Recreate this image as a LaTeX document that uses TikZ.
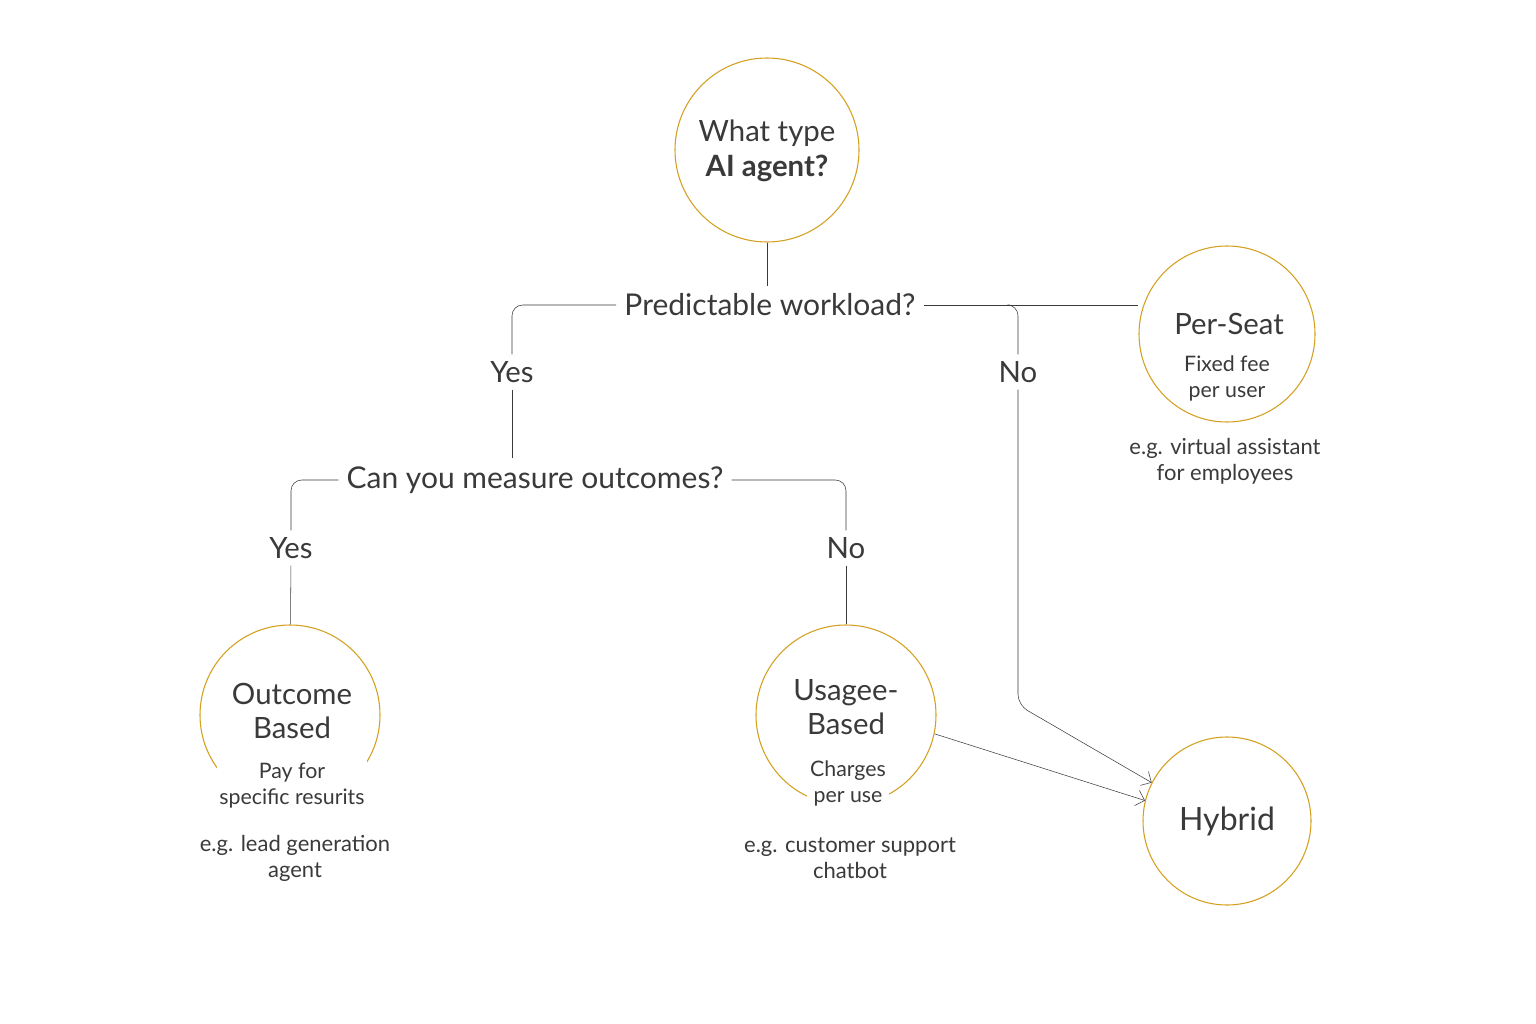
\documentclass[tikz,border=0pt]{standalone}
\usepackage{fontspec}
\setmainfont{Lato}
\usepackage{tikz}
\usetikzlibrary{positioning}
\usetikzlibrary{arrows.meta}
\definecolor{gold}{HTML}{D4A020}
\definecolor{ink}{HTML}{3A3A3A}
\tikzset{
    bubble/.style = {circle, draw=gold, thick, fill=white, inner sep=0pt},
    question/.style = {fill=white, inner sep=6pt, text=ink, font=\fontsize{22.5}{26}\selectfont},
    answer/.style = {fill=white, inner sep=5pt, text=ink, font=\fontsize{22}{26}\selectfont},
    title/.style = {align=center, text=ink, font=\fontsize{22}{26}\selectfont},
    note/.style = {align=center, fill=white, inner sep=2pt, text=ink, font=\fontsize{16}{19.5}\selectfont},
    example/.style = {align=center, text=ink, font=\fontsize{16.5}{19.5}\selectfont},
    link/.style = {draw=ink, thin, rounded corners=8pt},
}
\begin{document}
\begin{tikzpicture}[x=0.75pt, y=-0.75pt]
\useasboundingbox (0,0) rectangle (1536,1024);
% bubbles
\node[bubble, minimum size=138pt] (top) at (767,150) {};
\node[title] at (767,151) {What type\\\textbf{AI agent?}};
\node[bubble, minimum size=132pt] (seat) at (1227,334) {};
\node[title] at (1229,324) {Per-Seat};
\node[bubble, minimum size=135pt] (outcome) at (290,715) {};
\node[title] at (292,711) {Outcome\\Based};
\node[bubble, minimum size=135pt] (usage) at (846,715) {};
\node[title] at (846,707) {Usagee-\\Based};
\node[bubble, minimum size=126pt] (hybrid) at (1227,821) {};
\node[title, font=\fontsize{24}{28}\selectfont] at (1227,821) {Hybrid};
% notes
\node[note] at (1227,378) {Fixed fee\\per user};
\node[note] at (292,786) {Pay for\\specific resurits};
\node[note] at (848,783) {Charges\\per use};
\node[example] at (1225,461) {e.g. virtual assistant\\for employees};
\node[example] at (295,858) {e.g. lead generation\\agent};
\node[example] at (850,858) {e.g. customer support\\chatbot};
% questions and answers
\node[question] (pw) at (770,305) {Predictable workload?};
\node[question] (cm) at (535,480) {Can you measure outcomes?};
\node[answer] (yes1) at (512,372) {Yes};
\node[answer] (no1) at (1018,372) {No};
\node[answer] (yes2) at (291,548) {Yes};
\node[answer] (no2) at (846,548) {No};
\coordinate (fork) at (1010,305);
\coordinate (bend) at (1018,705);
%
\draw[link] (top) -- (top |- pw.north);
\draw[link] (pw.west) -| (yes1.north);
\draw[link] (pw.east) -- (pw.east -| seat.west);
\draw[link] (fork) -| (no1.north);
\draw[link] (yes1.south) -- (yes1.south |- cm.north);
\draw[link] (cm.west) -| (yes2.north);
\draw[link] (cm.east) -| (no2.north);
\draw[link] (yes2) -- (outcome);
\draw[link] (no2) -- (usage);
\draw[link, -{Straight Barb[length=6pt]}] (no1.south) -- (bend) -- (hybrid.153);
\draw[link, -{Straight Barb[length=6pt]}] (usage.348) -- (hybrid.166);
\end{tikzpicture}
\end{document}
